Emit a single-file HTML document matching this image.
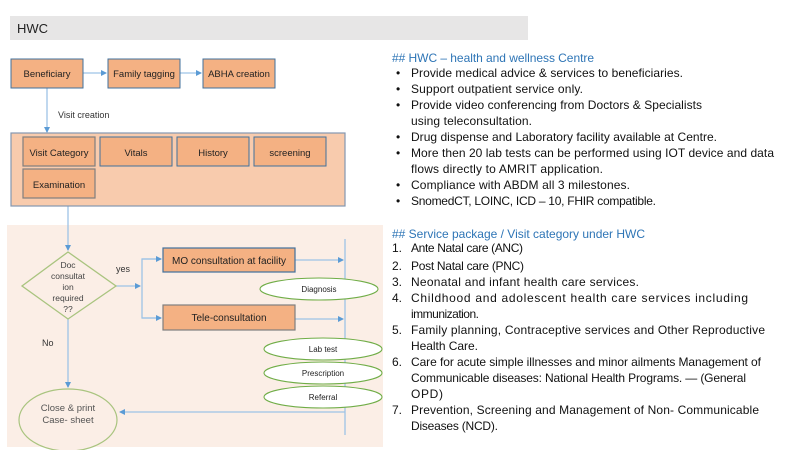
<!DOCTYPE html>
<html><head><meta charset="utf-8"><style>
html,body{margin:0;padding:0;background:#fff;}
svg{display:block;font-family:"Liberation Sans",sans-serif;}
</style></head><body>
<svg width="800" height="450" viewBox="0 0 800 450" xmlns="http://www.w3.org/2000/svg">
<defs>
<marker id="a" markerWidth="6" markerHeight="6" refX="5" refY="3" orient="auto" markerUnits="userSpaceOnUse"><path d="M0,0 L6,3 L0,6 z" fill="#5b9bd5"/></marker>
</defs>
<rect x="10" y="16" width="518" height="24" fill="#e7e6e6"/>
<text x="17" y="33" font-size="13" fill="#222">HWC</text>

<g stroke="#9dc3e6" stroke-width="1.3" fill="none">
<line x1="83" y1="73" x2="106" y2="73" marker-end="url(#a)"/>
<line x1="180" y1="73" x2="201" y2="73" marker-end="url(#a)"/>
<line x1="47" y1="88" x2="47" y2="132" marker-end="url(#a)"/>
<line x1="68" y1="206" x2="68" y2="225"/>
</g>
<g font-size="9.5" fill="#222" text-anchor="middle">
<rect x="11" y="59" width="72" height="29" fill="#f4b183" stroke="#41719c"/>
<text x="47" y="77">Beneficiary</text>
<rect x="108" y="59" width="72" height="29" fill="#f4b183" stroke="#41719c"/>
<text x="144" y="77">Family tagging</text>
<rect x="203" y="59" width="72" height="29" fill="#f4b183" stroke="#41719c"/>
<text x="239" y="77">ABHA creation</text>
</g>
<text x="58" y="118" font-size="9" fill="#333">Visit creation</text>

<rect x="11" y="133" width="334" height="73" fill="#f8cbad" stroke="#8497b0" stroke-width="1.2"/>
<g font-size="9.5" fill="#222" text-anchor="middle">
<rect x="23" y="137" width="72" height="29" fill="#f4b183" stroke="#7f7f7f" stroke-width="1.2"/><text x="59" y="156">Visit Category</text>
<rect x="100" y="137" width="72" height="29" fill="#f4b183" stroke="#41719c"/><text x="136" y="156">Vitals</text>
<rect x="177" y="137" width="72" height="29" fill="#f4b183" stroke="#41719c"/><text x="213" y="156">History</text>
<rect x="254" y="137" width="72" height="29" fill="#f4b183" stroke="#41719c"/><text x="290" y="156">screening</text>
<rect x="23" y="169" width="72" height="29" fill="#f4b183" stroke="#7f7f7f" stroke-width="1.2"/><text x="59" y="188">Examination</text>
</g>

<rect x="7" y="225" width="376" height="222" fill="#fbeee6"/>
<g stroke="#9dc3e6" stroke-width="1.3" fill="none">
<line x1="68" y1="225" x2="68" y2="250" marker-end="url(#a)"/>
<line x1="116" y1="286" x2="140" y2="286" marker-end="url(#a)"/>
<polyline points="161,259 142,259 142,318 161,318"/>
<line x1="142" y1="259" x2="161" y2="259" marker-end="url(#a)"/>
<line x1="142" y1="318" x2="161" y2="318" marker-end="url(#a)"/>
<line x1="295" y1="260" x2="343" y2="260" marker-end="url(#a)"/>
<line x1="295" y1="319" x2="343" y2="319" marker-end="url(#a)"/>
<line x1="345" y1="239" x2="345" y2="435"/>
<line x1="345" y1="412" x2="120" y2="412" marker-end="url(#a)"/>
<line x1="68" y1="319" x2="68" y2="387" marker-end="url(#a)"/>
</g>
<polygon points="68,252 116,286 68,319 22,286" fill="#fbeee6" stroke="#a9c47f" stroke-width="1.3"/>
<g font-size="8.5" fill="#444" text-anchor="middle">
<text x="68" y="268">Doc</text><text x="68" y="279">consultat</text><text x="68" y="290">ion</text><text x="68" y="301">required</text><text x="68" y="312">??</text>
</g>
<text x="116" y="272" font-size="9" fill="#333">yes</text>
<text x="42" y="346" font-size="9" fill="#333">No</text>
<rect x="163" y="248" width="132" height="24" fill="#f4b183" stroke="#41719c" stroke-width="1.2"/>
<text x="229" y="264" font-size="10" fill="#222" text-anchor="middle">MO consultation at facility</text>
<rect x="163" y="305" width="132" height="25" fill="#f4b183" stroke="#7f7f7f" stroke-width="1.2"/>
<text x="229" y="321" font-size="10" fill="#222" text-anchor="middle">Tele-consultation</text>
<g fill="#fff" stroke="#70ad47" stroke-width="1.1">
<ellipse cx="319" cy="289" rx="59" ry="11"/>
<ellipse cx="323" cy="349" rx="59" ry="11"/>
<ellipse cx="323" cy="373" rx="59" ry="11"/>
<ellipse cx="323" cy="397" rx="59" ry="11"/>
</g>
<ellipse cx="68" cy="420" rx="49" ry="31" fill="#fbeee6" stroke="#a9c47f" stroke-width="1.2"/>
<g font-size="8" fill="#222" text-anchor="middle">
<text x="319" y="292">Diagnosis</text><text x="323" y="352">Lab test</text><text x="323" y="376">Prescription</text><text x="323" y="400">Referral</text>
</g>
<text x="68" y="411" font-size="9.5" fill="#555" text-anchor="middle">Close &amp; print</text>
<text x="68" y="423" font-size="9.5" fill="#555" text-anchor="middle">Case- sheet</text>

<g font-size="12" fill="#111">
<text x="392" y="62" fill="#2e75b6" textLength="202" lengthAdjust="spacing">## HWC – health and wellness Centre</text>
<g><text x="396" y="77">•</text><text x="396" y="93">•</text><text x="396" y="109">•</text><text x="396" y="141">•</text><text x="396" y="157">•</text><text x="396" y="189">•</text><text x="396" y="205">•</text></g>
<text x="411" y="77" textLength="272" lengthAdjust="spacing">Provide medical advice &amp; services to beneficiaries.</text>
<text x="411" y="93" textLength="172" lengthAdjust="spacing">Support outpatient service only.</text>
<text x="411" y="109" textLength="291" lengthAdjust="spacing">Provide video conferencing from Doctors &amp; Specialists</text>
<text x="411" y="125" textLength="121" lengthAdjust="spacing">using teleconsultation.</text>
<text x="411" y="141" textLength="306" lengthAdjust="spacing">Drug dispense and Laboratory facility available at Centre.</text>
<text x="411" y="157" textLength="363" lengthAdjust="spacing">More then 20 lab tests can be performed using IOT device and data</text>
<text x="411" y="173" textLength="192" lengthAdjust="spacing">flows directly to AMRIT application.</text>
<text x="411" y="189" textLength="219" lengthAdjust="spacing">Compliance with ABDM all 3 milestones.</text>
<text x="411" y="205" textLength="245" lengthAdjust="spacing">SnomedCT, LOINC, ICD – 10, FHIR compatible.</text>
<text x="392" y="238" fill="#2e75b6" textLength="253" lengthAdjust="spacing">## Service package / Visit category under HWC</text>
<text x="392" y="252">1.</text><text x="411" y="252" textLength="112" lengthAdjust="spacing">Ante Natal care (ANC)</text>
<text x="392" y="270">2.</text><text x="411" y="270" textLength="113" lengthAdjust="spacing">Post Natal care (PNC)</text>
<text x="392" y="286">3.</text><text x="411" y="286" textLength="228" lengthAdjust="spacing">Neonatal and infant health care services.</text>
<text x="392" y="302">4.</text><text x="411" y="302" textLength="337" lengthAdjust="spacing">Childhood and adolescent health care services including</text>
<text x="411" y="318" textLength="68" lengthAdjust="spacing">immunization.</text>
<text x="392" y="334">5.</text><text x="411" y="334" textLength="354" lengthAdjust="spacing">Family planning, Contraceptive services and Other Reproductive</text>
<text x="411" y="350" textLength="67" lengthAdjust="spacing">Health Care.</text>
<text x="392" y="366">6.</text><text x="411" y="366" textLength="350" lengthAdjust="spacing">Care for acute simple illnesses and minor ailments Management of</text>
<text x="411" y="382" textLength="335" lengthAdjust="spacing">Communicable diseases: National Health Programs. — (General</text>
<text x="411" y="398" textLength="32" lengthAdjust="spacing">OPD)</text>
<text x="392" y="414">7.</text><text x="411" y="414" textLength="348" lengthAdjust="spacing">Prevention, Screening and Management of Non- Communicable</text>
<text x="411" y="430" textLength="87" lengthAdjust="spacing">Diseases (NCD).</text>
</g>
</svg>
</body></html>
